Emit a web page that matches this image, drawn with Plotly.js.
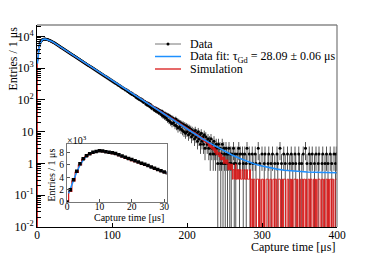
<!DOCTYPE html>
<html><head><meta charset="utf-8">
<script src="https://cdn.plot.ly/plotly-3.0.1.min.js"></script>
<style>html,body{margin:0;padding:0;background:#fff}#c{width:374px;height:253px}</style>
</head><body><div id="c"></div>
<script>
// Data: entries per 1 us bin, bins centred at 0,1,2,...,399 us
const dataCounts = [
0,2000,3600,5000,6200,7000,7500,7800,8050,8200,
8300,8280,8150,8050,8000,7850,7650,7450,7250,7050,
6900,6700,6500,6300,6100,5900,5680,5470,5270,5080,
4870,4712,4520,4391,4208,4090,3921,3810,3648,3552,
3398,3305,3160,3080,2941,2870,2738,2672,2551,2490,
2372,2318,2209,2160,2058,2013,1918,1875,1783,1748,
1662,1628,1547,1516,1440,1412,1341,1316,1248,1226,
1163,1140,1083,1062,1007,990,938,921,873,860,
812,800,757,746,703,695,655,648,609,604,
567,562,528,524,490,489,457,455,425,425,
396,392,368,366,344,341,322,318,297,296,
279,275,258,257,240,239,225,222,207,210,
201,186,190,172,176,158,167,149,155,141,
136,140,121,130,114,121,105,112,99,107,
92,99,84,91,88,75,83,70,79,66,
74,61,69,55,62,58,49,57,46,54,
43,51,40,47,38,45,34,43,31,39,
29,37,27,35,24,33,22,31,20,28,
18,27,19,24,16,25,15,22,13,21,
14,19,12,18,11,17,10,16,9,15,
10,14,8,13,9,12,7,11,8,10,
6,11,7,9,5,10,6,8,4,9,
5,7,4,8,3,7,5,4,6,3,
5,2,6,3,4,2,5,3,2,4,
3,1,4,2,3,1,2,4,1,3,
2,1,3,2,1,2,3,1,2,1,
2,0,3,1,2,1,0,2,0,3,
1,2,0,0,2,1,0,2,0,1,
3,0,0,2,1,0,0,2,1,0,
0,2,1,0,0,3,0,1,0,0,
2,0,0,1,2,0,0,0,1,2,
0,0,1,0,2,0,0,1,0,0,
2,1,0,0,3,0,1,0,0,2,
0,1,0,0,2,0,0,1,0,2,
0,1,0,0,2,1,0,0,0,2,
1,0,0,1,0,2,0,0,3,0,
1,0,0,2,0,1,0,2,0,0,
1,0,2,0,0,1,2,0,0,0,
1,2,0,0,1,0,2,0,1,0,
0,2,0,1,0,0,2,0,1,2
];
// Simulation, normalised, same binning
const simCounts = [
0,1700,3400,4800,6000,6900,7400,7750,8000,8150,
8200,8150,8050,7950,7850,7700,7500,7300,7100,6900,
6720,6550,6370,6190,6000,5800,5600,5400,5200,4990,
4780,4616,4457,4304,4157,4013,3876,3742,3614,3490,
3371,3255,3143,3035,2931,2830,2733,2639,2548,2461,
2376,2295,2216,2140,2066,1995,1927,1861,1797,1735,
1675,1630,1555,1515,1450,1412,1350,1318,1260,1230,
1175,1148,1095,1070,1020,998,950,932,886,870,
826,810,770,756,718,706,668,660,624,615,
580,574,541,534,504,498,470,464,438,434,
409,405,381,377,355,351,331,328,308,306,
288,285,268,266,250,249,233,231,217,215,
212,199,197,186,184,173,172,161,160,150,
151,140,139,131,130,121,122,113,112,105,
106,98,99,91,93,85,86,79,81,74,
75,69,71,64,66,59,62,55,58,51,
54,48,50,44,47,41,44,38,41,36,
38,33,36,31,33,29,31,27,29,25,
27.2,23.4,25.3,21.8,23.7,20.2,22.1,18.9,20.5,17.6,
19.2,16.3,17.9,15.0,16.6,14.1,15.4,13.1,14.4,12.2,
13.4,11.5,12.5,10.6,11.8,9.9,10.9,9.3,10.2,8.6,
9.6,8.0,8.9,7.4,8.3,6.7,7.7,6.4,7.0,5.8,
6.7,5.4,6.1,4.8,5.8,4.5,5.1,4.2,4.8,3.5,
4.5,3.2,4.2,2.9,3.5,2.6,3.2,2.2,2.9,1.9,
2.6,1.9,2.2,1.6,2.2,1.3,1.9,1.3,1.6,1.0,
1.6,1.0,1.3,0.96,1.3,0.64,1.0,0.64,0.96,0.64,
0.96,0.32,0.64,0.64,0.32,0.96,0.32,0.64,0.32,0.64,
0.32,0.64,0.32,0.32,0.64,0.32,0.32,0.64,0.32,0.32,
0.64,0.32,0.32,0.32,0.64,0,0.32,0.32,0,0.32,
0.32,0,0,0.32,0.32,0.32,0,0.32,0,0,
0.32,0.32,0,0.32,0,0,0.32,0.32,0.32,0,
0,0.32,0.32,0,0,0.32,0.32,0,0.32,0.32,
0,0,0.32,0.32,0.32,0,0,0.32,0,0.32,
0.32,0.32,0,0,0.32,0.32,0,0,0.32,0,
0.32,0,0,0.32,0.32,0.32,0,0.32,0,0,
0.32,0.32,0,0,0.32,0,0.32,0.32,0,0.32,
0,0,0.32,0.32,0,0.32,0.32,0,0,0.32,
0.32,0,0.32,0,0,0.32,0.32,0.32,0,0,
0.32,0.32,0,0.32,0,0,0.32,0.32,0,0.32,
0,0.32,0.32,0,0.32,0.32,0,0,0.32,0.32
];
// Fit curve (tau_Gd = 28.09 us + flat background)
const fitTime = [0.5,1,2,3,4,5,6,7,8,9,10,11,12,13,14,15,16,17,18,19,20,22,24,26,28,30,
40,50,60,70,80,90,100,110,120,130,140,150,160,170,180,190,200,210,220,230,240,250,
260,270,280,290,300,310,320,330,340,350,360,370,380,390,400];
const fitValues = [1400,2100,3550,4850,5950,6800,7400,7850,8100,8250,8300,8270,8180,8060,7920,7760,7590,7420,7250,7080,6920,6470,6030,5616,5230,4870,
3412,2391,1675,1174,822,576,404,283,198.5,139.5,98,68.8,48.3,34,24,16.9,12,8.55,6.1,4.45,3.27,2.43,
1.86,1.45,1.17,0.97,0.83,0.73,0.663,0.614,0.58,0.556,0.54,0.528,0.52,0.514,0.51];

const xTicks = [0,100,200,300,400];
const yTickVals = [0.01,0.1,1,10,100,1000,10000];
const yTickText = ['10<sup>-2</sup>','10<sup>-1</sup>','1','10','10<sup>2</sup>','10<sup>3</sup>','10<sup>4</sup>'];
const insetXTicks = [0,10,20,30];
const insetYTicks = [0,2,4,6,8];
const legendLabels = ['Data','Data fit: τ<sub>Gd</sub> = 28.09 ± 0.06 μs','Simulation'];

const F = "'Liberation Serif', 'Times New Roman', serif";
const BLUE = '#1e90ff', RED = '#d81818';
const W = 374, H = 253;
const px = v => v / W, py = v => 1 - v / H;

const binT = dataCounts.map((_, i) => i);
const mX = [], mY = [], ePlus = [], eMinus = [];
dataCounts.forEach((n, i) => {
  if (n > 0) {
    const s = Math.sqrt(n);
    mX.push(binT[i]); mY.push(n); ePlus.push(s);
    eMinus.push(n - Math.max(n - s, 1e-4));
  }
});
const stepX = binT.map(t => t - 0.5).concat([binT[binT.length - 1] + 0.5]);
const stepLog = simCounts.map(v => v > 0 ? v : 1e-4); stepLog.push(stepLog[stepLog.length - 1]);
const stepLin = simCounts.map(v => v / 1000); stepLin.push(stepLin[stepLin.length - 1]);

const minorY = [];
for (let e = -2; e <= 4; e++) for (let d = 2; d <= 9; d++) minorY.push(d * Math.pow(10, e));

const traces = [
  {x: mX, y: mY, type: 'scatter', mode: 'markers', xaxis: 'x', yaxis: 'y',
   marker: {color: '#000', size: 3},
   error_y: {type: 'data', symmetric: false, array: ePlus, arrayminus: eMinus, color: '#444', thickness: 0.9, width: 0},
   hoverinfo: 'skip', showlegend: false},
  {x: stepX, y: stepLog, type: 'scatter', mode: 'lines', line: {shape: 'hv', color: RED, width: 1},
   xaxis: 'x', yaxis: 'y', showlegend: false},
  {x: fitTime, y: fitValues, type: 'scatter', mode: 'lines', line: {color: BLUE, width: 1.6},
   xaxis: 'x', yaxis: 'y', showlegend: false},
  {x: stepX, y: stepLin, type: 'scatter', mode: 'lines', line: {shape: 'hv', color: RED, width: 1.2},
   xaxis: 'x2', yaxis: 'y2', showlegend: false},
  {x: fitTime, y: fitValues.map(v => v / 1000), type: 'scatter', mode: 'lines', line: {color: BLUE, width: 1.5},
   xaxis: 'x2', yaxis: 'y2', showlegend: false},
  {x: binT, y: dataCounts.map(v => v / 1000), type: 'scatter', mode: 'markers', xaxis: 'x2', yaxis: 'y2',
   marker: {color: '#000', size: 3.5, symbol: 'square'},
   error_y: {type: 'data', array: dataCounts.map(v => Math.sqrt(v) / 1000), color: '#000', thickness: 1, width: 0},
   showlegend: false}
];

const tf = s => ({family: F, size: s, color: '#000'});
const layout = {
  width: W, height: H, margin: {l: 0, r: 0, t: 0, b: 0},
  paper_bgcolor: '#fff', plot_bgcolor: '#fff', showlegend: false,
  xaxis: {domain: [px(37), px(337)], range: [0, 400], tickmode: 'array', tickvals: xTicks,
    ticks: 'inside', ticklen: 4, tickcolor: '#000', showline: true, linecolor: '#000', linewidth: 1,
    showgrid: false, zeroline: false, tickfont: tf(11.5), ticklabelstandoff: -3, anchor: 'y'},
  yaxis: {domain: [1 - 227 / H, 1 - 25 / H], type: 'log', range: [-2, 4.36], tickmode: 'array',
    tickvals: yTickVals, ticktext: yTickText, ticks: 'inside', ticklen: 8, tickcolor: '#000',
    minor: {tickmode: 'array', tickvals: minorY, ticks: 'inside', ticklen: 4, tickcolor: '#000', showgrid: false},
    showline: true, linecolor: '#000', linewidth: 1, showgrid: false, zeroline: false, tickfont: tf(12), anchor: 'x'},
  xaxis2: {domain: [px(67), px(166.5)], range: [0, 30.7], tickmode: 'array', tickvals: insetXTicks,
    ticks: 'inside', ticklen: 3, tickcolor: '#555', showline: true, mirror: true, linecolor: '#777', linewidth: 1,
    showgrid: false, zeroline: false, tickfont: tf(9.5), ticklabelstandoff: -4, anchor: 'y2'},
  yaxis2: {domain: [1 - 202 / H, 1 - 144 / H], range: [0, 9.4], tickmode: 'array', tickvals: insetYTicks,
    ticks: 'inside', ticklen: 3, tickcolor: '#555', showline: true, mirror: true, linecolor: '#777', linewidth: 1,
    showgrid: false, zeroline: false, tickfont: tf(9.5), anchor: 'x2'},
  shapes: [
    {type: 'line', xref: 'paper', yref: 'paper', x0: px(37), x1: px(337), y0: py(25), y1: py(25), line: {color: '#888', width: 1.5}},
    {type: 'line', xref: 'paper', yref: 'paper', x0: px(337), x1: px(337), y0: py(25), y1: py(227), line: {color: '#777', width: 1.2}},
    {type: 'line', xref: 'paper', yref: 'paper', x0: px(155), x1: px(181), y0: py(44), y1: py(44), line: {color: '#777', width: 1}},
    {type: 'circle', xref: 'paper', yref: 'paper', x0: px(166.5), x1: px(169.5), y0: py(45.5), y1: py(42.5), fillcolor: '#000', line: {width: 0}},
    {type: 'line', xref: 'paper', yref: 'paper', x0: px(155), x1: px(181), y0: py(56.5), y1: py(56.5), line: {color: BLUE, width: 1.5}},
    {type: 'line', xref: 'paper', yref: 'paper', x0: px(155), x1: px(181), y0: py(69), y1: py(69), line: {color: RED, width: 1.3}}
  ],
  annotations: [
    {text: 'Entries / 1 μs', xref: 'paper', yref: 'paper', x: px(12.5), y: py(25), xanchor: 'center', yanchor: 'top', textangle: -90, showarrow: false, font: tf(12)},
    {text: 'Capture time [μs]', xref: 'paper', yref: 'paper', x: px(337), y: py(246.5), xanchor: 'right', yanchor: 'middle', showarrow: false, font: tf(12)},
    {text: 'Entries / 1 μs', xref: 'paper', yref: 'paper', x: px(51), y: py(146), xanchor: 'center', yanchor: 'top', textangle: -90, showarrow: false, font: tf(10)},
    {text: 'Capture time [μs]', xref: 'paper', yref: 'paper', x: px(165.5), y: py(217), xanchor: 'right', yanchor: 'middle', showarrow: false, font: tf(10)},
    {text: '×10<sup>3</sup>', xref: 'paper', yref: 'paper', x: px(65), y: py(140), xanchor: 'left', yanchor: 'middle', showarrow: false, font: tf(10)},
    {text: legendLabels[0], xref: 'paper', yref: 'paper', x: px(188), y: py(44), xanchor: 'left', yanchor: 'middle', showarrow: false, font: tf(12)},
    {text: legendLabels[1], xref: 'paper', yref: 'paper', x: px(188), y: py(56.5), xanchor: 'left', yanchor: 'middle', showarrow: false, font: tf(12)},
    {text: legendLabels[2], xref: 'paper', yref: 'paper', x: px(188), y: py(69), xanchor: 'left', yanchor: 'middle', showarrow: false, font: tf(12)}
  ]
};
Plotly.newPlot('c', traces, layout, {staticPlot: true, displayModeBar: false});
</script>
</body></html>
